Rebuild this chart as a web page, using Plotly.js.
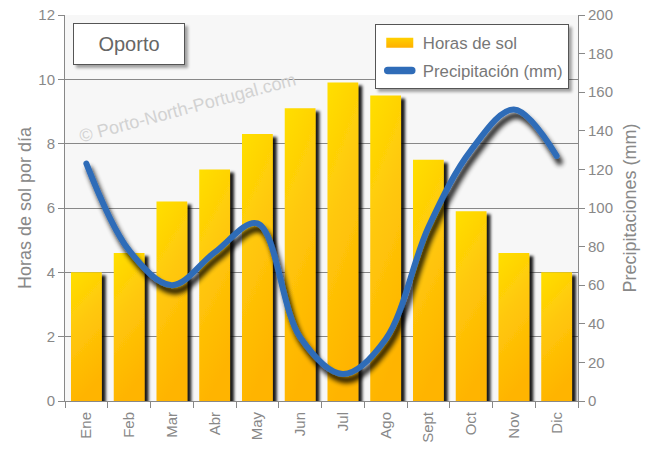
<!DOCTYPE html>
<html>
<head>
<meta charset="utf-8">
<script src="https://cdn.plot.ly/plotly-3.0.1.min.js"></script>
<style>
html,body{margin:0;padding:0;background:#fff;}
#chart{width:650px;height:450px;}
</style>
</head>
<body>
<div id="chart"></div>
<script>
const months = ["Ene","Feb","Mar","Abr","May","Jun","Jul","Ago","Sept","Oct","Nov","Dic"];
const sunHours = [4.0, 4.6, 6.2, 7.2, 8.3, 9.1, 9.9, 9.5, 7.5, 5.9, 4.6, 4.0];
const precipitation = [123, 78, 60, 77, 92, 33, 14, 32, 90, 130, 151, 127];
const leftTicks = [0, 2, 4, 6, 8, 10, 12];
const rightTicks = [0, 20, 40, 60, 80, 100, 120, 140, 160, 180, 200];

const gray = "#888";
const font = "Liberation Sans, Arial, sans-serif";

const traces = [
  {
    type: "bar", name: "Horas de sol", x: months, y: sunHours, legendgroup: "a",
    marker: {color: "#FFC400", line: {width: 0}}, width: 0.72,
    hoverinfo: "skip"
  },
  {
    type: "scatter", mode: "lines", name: "Precipitación (mm)", x: months, y: precipitation,
    legendgroup: "b",
    yaxis: "y2", line: {color: "#2F6CB8", width: 6, shape: "spline", smoothing: 1.0},
    hoverinfo: "skip"
  }
];

const layout = {
  width: 650, height: 450,
  margin: {l: 65, r: 72, t: 15, b: 49},
  paper_bgcolor: "#fff", plot_bgcolor: "#F7F7F7",
  font: {family: font, color: gray, size: 14},
  showlegend: true,
  legend: {
    x: 0.982, y: 0.976, xanchor: "right", yanchor: "top",
    bgcolor: "#fff", bordercolor: "#555", borderwidth: 1, itemwidth: 37,
    font: {size: 16.8, color: "#777"}, tracegroupgap: 3, traceorder: "grouped"
  },
  xaxis: {
    type: "category", tickvals: months, ticktext: months,
    tickangle: -90, ticks: "outside", tickson: "boundaries", ticklen: 6,
    ticklabelstandoff: 4,
    tickcolor: gray, showline: true, linecolor: gray, linewidth: 1,
    showgrid: false, tickfont: {size: 15, color: gray}, fixedrange: true
  },
  yaxis: {
    range: [0, 12], tickvals: leftTicks, ticks: "outside", ticklen: 6, tickcolor: gray,
    showline: true, linecolor: gray, showgrid: true, gridcolor: "#888", gridwidth: 1,
    zeroline: false, tickfont: {size: 15, color: gray},
    title: {text: "Horas de sol por día", font: {size: 18, color: gray}, standoff: 2}
  },
  yaxis2: {
    overlaying: "y", side: "right", range: [0, 200], tickvals: rightTicks,
    ticks: "outside", ticklen: 6, tickcolor: gray, showline: true, linecolor: gray,
    showgrid: false, zeroline: false, tickfont: {size: 15, color: gray},
    title: {text: "Precipitaciones (mm)", font: {size: 18, color: gray}, standoff: 11}
  },
  annotations: [
    {
      xref: "paper", yref: "paper", x: 0.015, y: 0.98, xanchor: "left", yanchor: "top",
      text: "Oporto", showarrow: false, font: {size: 20, color: "#666"},
      bgcolor: "#fff", bordercolor: "#555", borderwidth: 1, width: 108, height: 38
    },
    {
      xref: "paper", yref: "paper", x: 0.238, y: 0.759, xanchor: "center", yanchor: "middle",
      text: "© Porto-North-Portugal.com", showarrow: false, textangle: -15,
      font: {size: 18, color: "#d2d2d2"}
    }
  ]
};

function nudge(el, dx, dy) {
  const t = el.getAttribute("transform") || "";
  el.setAttribute("transform", t + " translate(" + dx + "," + dy + ")");
}

Plotly.newPlot("chart", traces, layout, {displayModeBar: false, staticPlot: true}).then(function(gd){
  const svg = gd.querySelector("svg.main-svg");
  const ns = "http://www.w3.org/2000/svg";
  let defs = svg.querySelector("defs");
  if (!defs) { defs = document.createElementNS(ns, "defs"); svg.insertBefore(defs, svg.firstChild); }
  defs.insertAdjacentHTML("beforeend",
    '<linearGradient id="goldgrad" x1="0" y1="0" x2="0.25" y2="1">' +
      '<stop offset="0" stop-color="#FFDF00"/>' +
      '<stop offset="0.45" stop-color="#FFC80A"/>' +
      '<stop offset="1" stop-color="#FFB400"/>' +
    '</linearGradient>' +
    '<linearGradient id="goldleg" x1="0" y1="0" x2="0" y2="1">' +
      '<stop offset="0" stop-color="#FFD000"/>' +
      '<stop offset="1" stop-color="#FFB000"/>' +
    '</linearGradient>' +
    '<filter id="barshadow" x="-20%" y="-10%" width="150%" height="130%">' +
      '<feGaussianBlur in="SourceAlpha" stdDeviation="1.6"/>' +
      '<feOffset dx="4" dy="3" result="ob"/>' +
      '<feComponentTransfer><feFuncA type="linear" slope="0.9"/></feComponentTransfer>' +
      '<feMerge><feMergeNode/><feMergeNode in="SourceGraphic"/></feMerge>' +
    '</filter>' +
    '<filter id="lineshadow" x="-10%" y="-10%" width="130%" height="130%">' +
      '<feGaussianBlur in="SourceAlpha" stdDeviation="2.4"/>' +
      '<feOffset dx="3" dy="6" result="ob"/>' +
      '<feComponentTransfer><feFuncA type="linear" slope="0.9"/></feComponentTransfer>' +
      '<feMerge><feMergeNode/><feMergeNode in="SourceGraphic"/></feMerge>' +
    '</filter>' +
    '<filter id="boxshadow" x="-10%" y="-10%" width="130%" height="140%">' +
      '<feGaussianBlur in="SourceAlpha" stdDeviation="1.5"/>' +
      '<feOffset dx="3" dy="3"/>' +
      '<feComponentTransfer><feFuncA type="linear" slope="0.35"/></feComponentTransfer>' +
      '<feMerge><feMergeNode/><feMergeNode in="SourceGraphic"/></feMerge>' +
    '</filter>'
  );
  gd.querySelectorAll(".barlayer .point path").forEach(function(p){
    p.style.fill = "url(#goldgrad)";
    p.setAttribute("filter", "url(#barshadow)");
  });
  gd.querySelectorAll(".scatterlayer path.js-line").forEach(function(p){
    p.setAttribute("filter", "url(#lineshadow)");
    p.style.strokeLinecap = "round";
  });
  const lbg = gd.querySelector(".legend rect.bg");
  const L = lbg ? lbg.getBoundingClientRect().left : 0;
  gd.querySelectorAll(".legend .traces").forEach(function(t, i){
    if (i === 0) t.querySelectorAll(".legendpoints path").forEach(function(p){
      p.style.fill = "url(#goldleg)";
      p.setAttribute("d", "M-13.5,-5H13.5V5H-13.5Z");
      const r = p.getBoundingClientRect();
      nudge(p, (L + 11) - r.left, 0);
    });
    if (i === 1) t.querySelectorAll(".legendlines path").forEach(function(p){
      p.style.strokeLinecap = "round";
      p.style.strokeWidth = "7.5px";
      p.setAttribute("d", "M0,0h24");
      const r = p.getBoundingClientRect();
      nudge(p, (L + 12.5) - r.left, 0);
    });
  });
  if (lbg) lbg.setAttribute("filter", "url(#boxshadow)");
  const abg = gd.querySelector(".annotation rect.bg");
  if (abg) abg.setAttribute("filter", "url(#boxshadow)");
});
</script>
</body>
</html>
